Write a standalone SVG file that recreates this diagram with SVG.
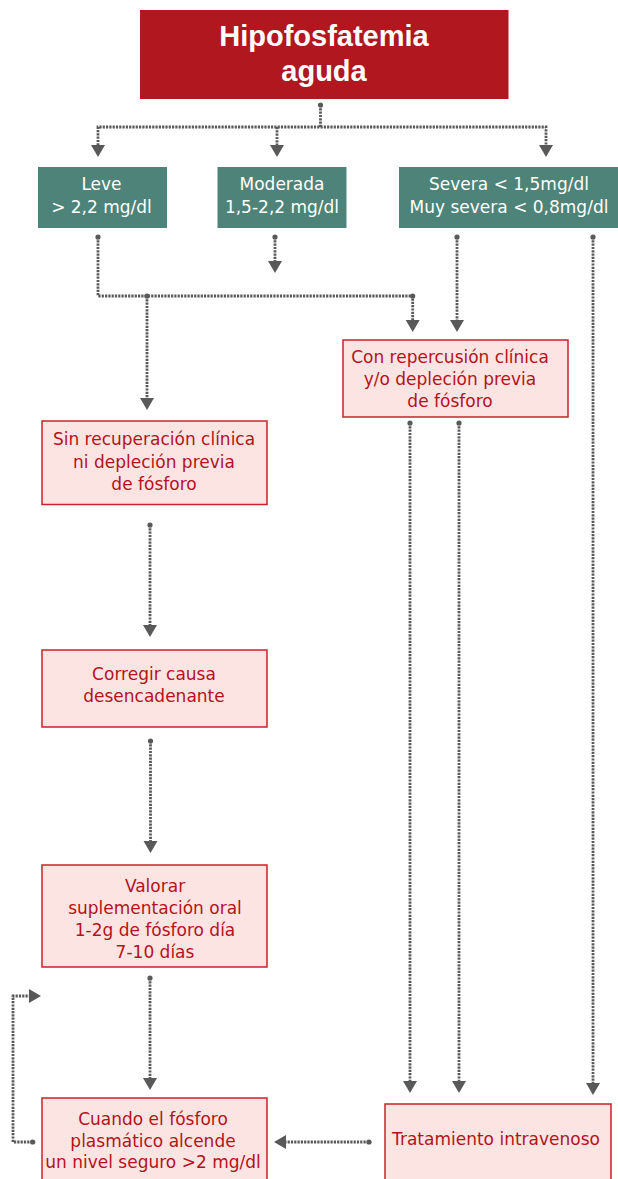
<svg xmlns="http://www.w3.org/2000/svg" width="618" height="1179" viewBox="0 0 618 1179">
<style>
.title{fill:#b0171f}
.titletxt{font-family:"Liberation Sans",Arial,sans-serif;font-weight:bold;font-size:29px;fill:#fff;text-anchor:middle}
.green{fill:#4d8378}
.gtxt{font-family:"DejaVu Sans",sans-serif;font-size:17px;fill:#fff;text-anchor:middle}
.pink{fill:#fbe4e2;stroke:#c9222c;stroke-width:1.5}
.ptxt{font-family:"DejaVu Sans",sans-serif;font-size:17px;fill:#b5121b;text-anchor:middle}
.con{fill:none;stroke:#595959;stroke-width:2.8;stroke-dasharray:2.2 1.1}
.arr{marker-end:url(#ah)}
.st{marker-start:url(#dot)}
</style>
<defs>
<marker id="ah" markerUnits="userSpaceOnUse" markerWidth="13" markerHeight="15" refX="0" refY="7" orient="auto" viewBox="0 0 13 14"><path d="M0,0 L12,7 L0,14 z" fill="#595959"/></marker>
<marker id="dot" markerUnits="userSpaceOnUse" markerWidth="6" markerHeight="6" refX="3" refY="3" viewBox="0 0 6 6"><circle cx="3" cy="3" r="2.6" fill="#595959"/></marker>
</defs>

<g id="connectors">
<path class="con st arr" d="M320.5,105 V127 H98 V145"/>
<path class="con arr" d="M320.5,127 H546 V145"/>
<path class="con arr" d="M277,127 V145"/>
<path class="con st arr" d="M98,237 V296 H412.7 V320"/>
<circle cx="412.7" cy="296" r="2.6" fill="#595959"/>
<path class="con arr" d="M147,296 V398"/>
<circle cx="147" cy="296" r="2.6" fill="#595959"/>
<path class="con st arr" d="M275,237 V261"/>
<path class="con st arr" d="M457,237 V320"/>
<path class="con st arr" d="M593,237 V1083"/>
<path class="con st arr" d="M410,423 V1081"/>
<path class="con st arr" d="M459,423 V1081"/>
<path class="con st arr" d="M150,525 V625"/>
<path class="con st arr" d="M150.5,741 V841"/>
<path class="con st arr" d="M150,978 V1078"/>
<path class="con st arr" d="M369,1142 H286"/>
<path class="con st arr" d="M32.7,1142 H13 V996 H29"/>
</g>

<g id="n-title">
<rect class="title" x="140" y="10" width="368.5" height="89"/>
<text class="titletxt" x="324" y="46">Hipofosfatemia</text>
<text class="titletxt" x="324" y="81">aguda</text>
</g>

<g id="n-leve">
<rect class="green" x="38" y="167" width="129" height="61"/>
<text class="gtxt" x="101.5" y="190">Leve</text>
<text class="gtxt" x="101.5" y="212.5">&gt; 2,2 mg/dl</text>
</g>

<g id="n-moderada">
<rect class="green" x="217.5" y="167" width="129" height="61"/>
<text class="gtxt" x="282" y="190">Moderada</text>
<text class="gtxt" x="282" y="212.5">1,5-2,2 mg/dl</text>
</g>

<g id="n-severa">
<rect class="green" x="399" y="167" width="219" height="61"/>
<text class="gtxt" x="509" y="190">Severa &lt; 1,5mg/dl</text>
<text class="gtxt" x="509" y="212.5">Muy severa &lt; 0,8mg/dl</text>
</g>

<g id="n-conrep">
<rect class="pink" x="343" y="340" width="225" height="77"/>
<text class="ptxt" x="450" y="363">Con repercusión clínica</text>
<text class="ptxt" x="450" y="385">y/o depleción previa</text>
<text class="ptxt" x="450" y="407">de fósforo</text>
</g>

<g id="n-sinrec">
<rect class="pink" x="42" y="421" width="225" height="83.5"/>
<text class="ptxt" x="154" y="445">Sin recuperación clínica</text>
<text class="ptxt" x="154" y="467.5">ni depleción previa</text>
<text class="ptxt" x="154" y="490">de fósforo</text>
</g>

<g id="n-corregir">
<rect class="pink" x="42" y="650" width="225" height="77"/>
<text class="ptxt" x="154" y="680">Corregir causa</text>
<text class="ptxt" x="154" y="702">desencadenante</text>
</g>

<g id="n-valorar">
<rect class="pink" x="42" y="865" width="225" height="102"/>
<text class="ptxt" x="155" y="892">Valorar</text>
<text class="ptxt" x="155" y="914">suplementación oral</text>
<text class="ptxt" x="155" y="936">1-2g de fósforo día</text>
<text class="ptxt" x="155" y="958">7-10 días</text>
</g>

<g id="n-cuando">
<rect class="pink" x="42" y="1098" width="225" height="95"/>
<text class="ptxt" x="153" y="1125">Cuando el fósforo</text>
<text class="ptxt" x="153" y="1146.5">plasmático alcende</text>
<text class="ptxt" x="153" y="1168">un nivel seguro &gt;2 mg/dl</text>
</g>

<g id="n-tratamiento">
<rect class="pink" x="385" y="1104" width="226" height="90"/>
<text class="ptxt" x="496" y="1145">Tratamiento intravenoso</text>
</g>
</svg>
